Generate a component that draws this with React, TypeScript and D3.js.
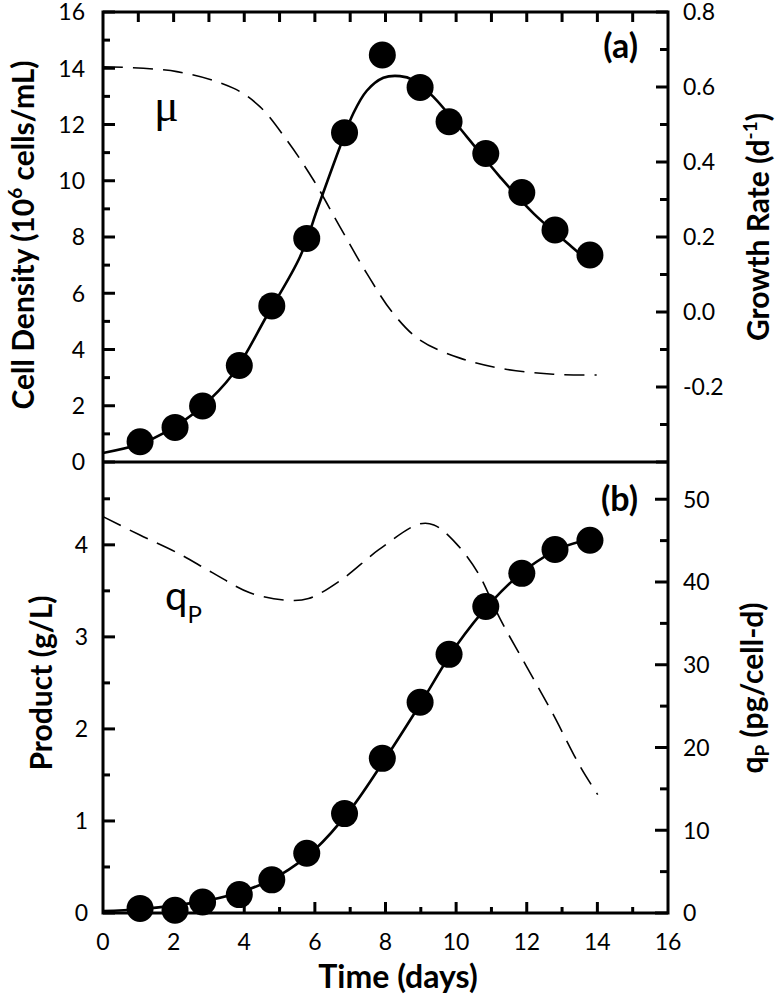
import React from "react";
import * as d3 from "d3";

// ---- data ----
const sampleDays = [1.05, 2.04, 2.82, 3.86, 4.78, 5.77, 6.84, 7.91, 8.98, 9.8, 10.84, 11.86, 12.8, 13.79];
const cellDensity = [0.72, 1.23, 1.99, 3.43, 5.55, 7.95, 11.71, 14.47, 13.32, 12.1, 10.97, 9.58, 8.25, 7.36];
const productConc = [0.05, 0.03, 0.12, 0.2, 0.36, 0.65, 1.08, 1.68, 2.29, 2.81, 3.33, 3.69, 3.95, 4.05];

const cellFitDays = [0, 1, 1.8, 2.75, 3.69, 4.64, 5.58, 6.1, 6.71, 7.09, 7.47, 7.94, 8.41, 8.79, 9.35, 10.3, 11.24, 12.19, 13.32, 13.93];
const cellFitValues = [0.32, 0.62, 1.08, 1.91, 3.15, 5.2, 7.3, 9.1, 11.2, 12.4, 13.2, 13.66, 13.72, 13.58, 12.99, 11.57, 10.14, 8.84, 7.6, 6.95];

const muDays = [0, 2.09, 3.69, 4.45, 5.2, 5.96, 6.71, 7.47, 8.22, 8.98, 10.11, 11.24, 12.75, 13.98];
const muValues = [0.654, 0.641, 0.597, 0.547, 0.459, 0.352, 0.227, 0.103, -0.004, -0.075, -0.123, -0.15, -0.166, -0.168];

const productFitDays = [0, 1, 2, 3, 4, 5, 6, 7, 8, 9, 10, 11, 12, 13, 13.8];
const productFitValues = [0.02, 0.04, 0.08, 0.14, 0.24, 0.41, 0.69, 1.12, 1.68, 2.28, 2.9, 3.38, 3.74, 3.97, 4.06];

const qpDays = [0, 1.03, 2.07, 3.11, 4.16, 5.2, 5.82, 6.76, 7.81, 8.95, 9.37, 9.99, 10.62, 11.25, 11.98, 12.71, 13.54, 14.01];
const qpValues = [47.9, 45.7, 43.6, 41.1, 38.7, 37.8, 38.0, 40.3, 43.9, 47.0, 46.9, 44.7, 41.1, 35.5, 29.9, 24.3, 17.5, 14.3];

const xTickLabels = [0, 2, 4, 6, 8, 10, 12, 14, 16];
const cellTickLabels = [0, 2, 4, 6, 8, 10, 12, 14, 16];
const muTickLabels = [-0.2, 0, 0.2, 0.4, 0.6, 0.8];
const productTickLabels = [0, 1, 2, 3, 4];
const qpTickLabels = [0, 10, 20, 30, 40, 50];

// ---- layout ----
const W = 775;
const H = 1001;
const L = 103;
const R = 668;
const TOP = 12;
const MID = 462;
const BOT = 913;

const FONT = "Lato, 'Open Sans', sans-serif";

export default function App() {
  const x = d3.scaleLinear().domain([0, 16]).range([L, R]);
  const yCell = d3.scaleLinear().domain([0, 16]).range([MID, TOP]);
  const yMu = d3.scaleLinear().domain([-0.4, 0.8]).range([MID, TOP]);
  const yProd = d3.scaleLinear().domain([0, 4.9]).range([BOT, MID]);
  const yQp = d3.scaleLinear().domain([0, 54.5]).range([BOT, MID]);

  const mk = (xs: number[], ys: number[], ys2: (v: number) => number) =>
    d3
      .line<number>()
      .x((_, i) => x(xs[i]))
      .y((v) => ys2(v))
      .curve(d3.curveCatmullRom.alpha(0.5))(ys) as string;

  const cellPath = mk(cellFitDays, cellFitValues, yCell);
  const muPath = mk(muDays, muValues, yMu);
  const prodPath = mk(productFitDays, productFitValues, yProd);
  const qpPath = mk(qpDays, qpValues, yQp);

  const dayTicks = d3.range(1, 16);
  const cellMinor = d3.range(0, 17);
  const muMinor = d3.range(-4, 9).map((v) => v / 10);
  const prodMinor = d3.range(0, 10).map((v) => v / 2);
  const qpMinor = d3.range(0, 55, 5);

  const tickStroke = { stroke: "#000", strokeWidth: 3 };

  return (
    <svg width={W} height={H} style={{ position: "absolute", left: 0, top: 0, background: "#fff" }}>
      {/* ticks: top of top panel */}
      {dayTicks.map((d) => (
        <line key={"tt" + d} x1={x(d)} x2={x(d)} y1={TOP} y2={TOP + 10} {...tickStroke} />
      ))}
      {/* ticks: bottom axis */}
      {dayTicks.map((d) => (
        <line key={"bt" + d} x1={x(d)} x2={x(d)} y1={BOT} y2={BOT - (d % 2 === 0 ? 11 : 6)} {...tickStroke} />
      ))}
      {/* left top ticks */}
      {cellMinor.map((v) => (
        <line key={"lc" + v} x1={L} x2={L + (v % 2 === 0 ? 12 : 7)} y1={yCell(v)} y2={yCell(v)} {...tickStroke} />
      ))}
      {/* right top ticks */}
      {muMinor.map((v, i) => (
        <line key={"rm" + i} x1={R} x2={R - (i % 2 === 0 ? 12 : 8)} y1={yMu(v)} y2={yMu(v)} {...tickStroke} />
      ))}
      {/* left bottom ticks */}
      {prodMinor.map((v, i) => (
        <line key={"lp" + i} x1={L} x2={L + (i % 2 === 0 ? 12 : 7)} y1={yProd(v)} y2={yProd(v)} {...tickStroke} />
      ))}
      {/* right bottom ticks */}
      {qpMinor.map((v, i) => (
        <line key={"rq" + i} x1={R} x2={R - (i % 2 === 0 ? 13 : 8)} y1={yQp(v)} y2={yQp(v)} {...tickStroke} />
      ))}

      {/* frame */}
      <rect x={L} y={TOP} width={R - L} height={BOT - TOP} fill="none" stroke="#000" strokeWidth={3} />
      <line x1={L} x2={R} y1={MID} y2={MID} stroke="#000" strokeWidth={3} />

      {/* dashed model curves */}
      <path d={muPath} fill="none" stroke="#000" strokeWidth={1.6} strokeDasharray="20,10" />
      <path d={qpPath} fill="none" stroke="#000" strokeWidth={1.6} strokeDasharray="20,10" />

      {/* solid fits */}
      <path d={cellPath} fill="none" stroke="#000" strokeWidth={2.6} />
      <path d={prodPath} fill="none" stroke="#000" strokeWidth={2.6} />

      {/* points */}
      {sampleDays.map((d, i) => (
        <circle key={"c" + i} cx={x(d)} cy={yCell(cellDensity[i])} r={13.5} fill="#000" />
      ))}
      {sampleDays.map((d, i) => (
        <circle key={"p" + i} cx={x(d)} cy={yProd(productConc[i])} r={13.5} fill="#000" />
      ))}

      {/* tick labels */}
      <g fontFamily={FONT} fontSize={23} fill="#000">
        {cellTickLabels.map((v) => (
          <text key={"lcl" + v} x={85} y={yCell(v)} dy="0.36em" textAnchor="end">
            {v}
          </text>
        ))}
        {muTickLabels.map((v) => (
          <text key={"rml" + v} x={683} y={yMu(v)} dy="0.36em" textAnchor="start">
            {v.toFixed(1)}
          </text>
        ))}
        {productTickLabels.map((v) => (
          <text key={"lpl" + v} x={88} y={yProd(v)} dy="0.36em" textAnchor="end">
            {v}
          </text>
        ))}
        {qpTickLabels.map((v) => (
          <text key={"rql" + v} x={683} y={yQp(v)} dy="0.36em" textAnchor="start">
            {v}
          </text>
        ))}
        {xTickLabels.map((v) => (
          <text key={"xl" + v} x={x(v)} y={950} textAnchor="middle">
            {v}
          </text>
        ))}
      </g>

      {/* axis titles */}
      <g fontFamily={FONT} fontSize={30} fontWeight="bold" fill="#000">
        <text transform="translate(34,235) rotate(-90)" textAnchor="middle">
          Cell Density (10
          <tspan fontSize={19} dy={-12}>6</tspan>
          <tspan dy={12}> cells/mL)</tspan>
        </text>
        <text transform="translate(769,227) rotate(-90)" textAnchor="middle">
          Growth Rate (d
          <tspan fontSize={19} dy={-12}>-1</tspan>
          <tspan dy={12}>)</tspan>
        </text>
        <text transform="translate(52,683) rotate(-90)" textAnchor="middle">
          Product (g/L)
        </text>
        <text transform="translate(763,688) rotate(-90)" textAnchor="middle">
          q
          <tspan fontSize={19} dy={6}>P</tspan>
          <tspan dy={-6}> (pg/cell-d)</tspan>
        </text>
        <text x={398} y={988} textAnchor="middle" fontSize={32}>
          Time (days)
        </text>
        <text x={638} y={58} textAnchor="end" fontSize={34}>
          (a)
        </text>
        <text x={638} y={511} textAnchor="end" fontSize={34}>
          (b)
        </text>
      </g>

      {/* curve labels */}
      <text x={154} y={121} fontFamily="'Liberation Serif', serif" fontSize={46} fill="#000">
        μ
      </text>
      <text x={165} y={610} fontFamily={FONT} fontSize={40} fill="#000">
        q<tspan fontSize={24} dy={13}>P</tspan>
      </text>
    </svg>
  );
}
